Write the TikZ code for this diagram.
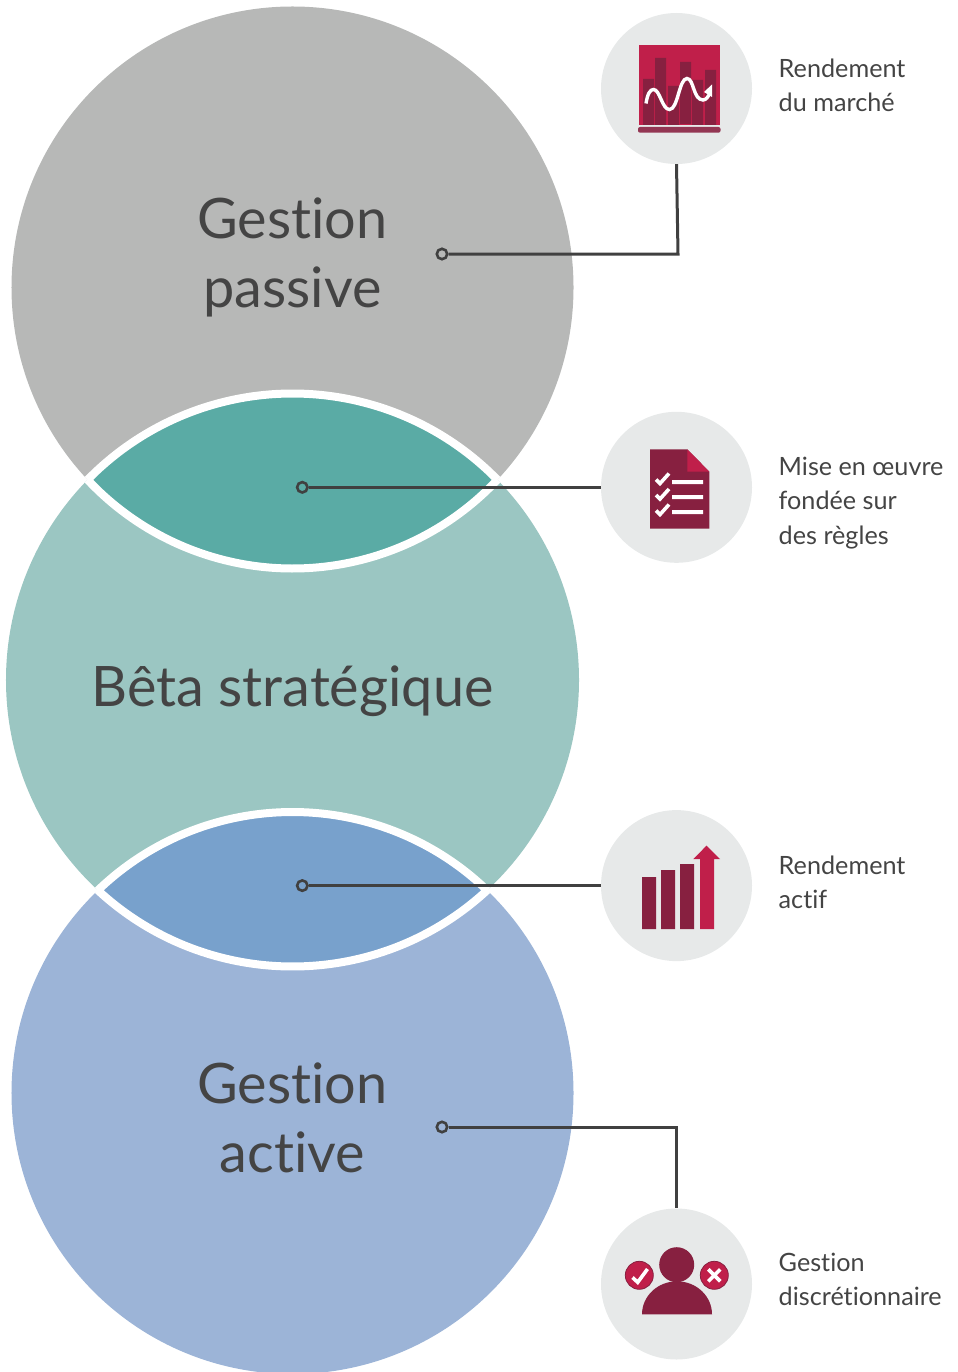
\documentclass[tikz,border=0pt]{standalone}
\usepackage{fontspec}
\setmainfont[Ligatures={NoCommon}]{Lato}
\usetikzlibrary{calc}
\definecolor{cGray}{HTML}{B7B8B7}
\definecolor{cTeal}{HTML}{9BC6C2}
\definecolor{cTealD}{HTML}{5AABA5}
\definecolor{cBlue}{HTML}{9CB4D7}
\definecolor{cBlueD}{HTML}{78A1CC}
\definecolor{cIcon}{HTML}{E7E9E9}
\definecolor{cLine}{HTML}{404040}
\definecolor{cText}{HTML}{444444}
\definecolor{cMaroon}{HTML}{872040}
\definecolor{cCrimson}{HTML}{C01F4A}
\tikzset{
  x=1bp,y=-1bp,
  bigtext/.style={text=cText,font=\fontsize{56}{69.5}\selectfont,align=center,inner sep=0pt},
  smalltext/.style={text=cText,font=\fontsize{25.3}{34.4}\selectfont,align=left,anchor=west,inner sep=0pt},
  iconbg/.style={circle,fill=cIcon,minimum size=151bp,inner sep=0pt},
  dotmark/.style={circle,draw=cLine,line width=2.6bp,minimum size=10.4bp,inner sep=0pt},
  conn/.style={draw=cLine,line width=3bp},
  ringarc/.style={draw=white,line width=8bp},
  whitestroke/.style={draw=white,line width=3.6bp},
}
\begin{document}
\begin{tikzpicture}
\useasboundingbox (0,0) rectangle (957,1372);
\coordinate (cA) at (292.5,287.5);
\coordinate (cB) at (292.5,680);
\coordinate (cC) at (292.5,1093);
\begin{scope}
\clip (0,0) rectangle (957,1372);
\fill[cGray] (cA) circle[radius=281bp];
\fill[cBlue] (cC) circle[radius=281bp];
\fill[cTeal] (cB) circle[radius=286.5bp];
% lenses
\begin{scope}
\clip (cA) circle[radius=281bp];
\fill[cTealD] (cB) circle[radius=286.5bp];
\end{scope}
\begin{scope}
\clip (cC) circle[radius=281bp];
\fill[cBlueD] (cB) circle[radius=286.5bp];
\end{scope}
% white separators
\draw[ringarc] (cA) ++(223.14:281bp) arc[start angle=223.14,end angle=316.86,radius=281bp];
\draw[ringarc] (cB) ++(44.3:286.5bp) arc[start angle=44.3,end angle=135.7,radius=286.5bp];
\draw[ringarc] (cB) ++(-47.1:286.5bp) arc[start angle=-47.1,end angle=-132.9,radius=286.5bp];
\draw[ringarc] (cC) ++(46.1:281bp) arc[start angle=46.1,end angle=133.9,radius=281bp];
\end{scope}

% icon discs
\node[iconbg] (ic1) at (676.5,88.5) {};
\node[iconbg] (ic2) at (676.5,487.3) {};
\node[iconbg] (ic3) at (676.5,885.6) {};
\node[iconbg] (ic4) at (676.5,1284) {};

% dots and connectors
\node[dotmark] (d1) at (442,254) {};
\node[dotmark] (d2) at (302.3,487.3) {};
\node[dotmark] (d3) at (302.3,885.6) {};
\node[dotmark] (d4) at (442,1127) {};
\coordinate (k1) at (678,254);
\draw[conn] (d1) -- (k1) -- (ic1.south);
\draw[conn] (d2) -- (ic2);
\draw[conn] (d3) -- (ic3);
\draw[conn] (d4) -| (ic4);

% big labels
\node[bigtext] (t1) at (292.5,257.5) {Gestion\\passive};
\node[bigtext] (t2) at (292.5,691) {Bêta stratégique};
\node[bigtext] (t3) at (292.5,1117.5) {Gestion\\active};

% small labels
\node[smalltext] (l1) at (778.5,85.5) {Rendement\\du marché};
\node[smalltext] (l2) at (778.5,503) {Mise en œuvre\\fondée sur\\des règles};
\node[smalltext] (l3) at (778.5,882) {Rendement\\actif};
\node[smalltext] (l4) at (778.5,1279.5) {Gestion\\discrétionnaire};

% icon 1
\fill[cCrimson] (639,45) rectangle (720,125);
\fill[cMaroon] (643,79) rectangle (654,125)
  (655,58) rectangle (666,125)
  (668,86) rectangle (679,125)
  (680,62) rectangle (691,124)
  (692,80) rectangle (703,125)
  (705,70) rectangle (716,125);
\fill[cMaroon!90!white,rounded corners=2bp] (638,127) rectangle (720.5,132.7);
\draw[whitestroke,line width=3.4bp] (646,103.5) .. controls (647.5,94) and (650,89.5) .. (653.5,89.5)
  .. controls (660,89.5) and (662,109.5) .. (669.5,109.5)
  .. controls (678,109.5) and (679,78.5) .. (687,78.5)
  .. controls (694,78.5) and (693,100) .. (703,100)
  .. controls (706,100) and (708,97) .. (710,93);
\fill[white] (712,84.5) -- (712,97) -- (704,92) -- cycle;

% icon 2
\fill[cMaroon] (650,449.3) -- (687.3,449.3) -- (709.3,471.7) -- (709.3,528.7) -- (650,528.7) -- cycle;
\fill[cCrimson] (687.3,449.3) -- (709.3,471.7) -- (687.3,471.7) -- cycle;
\fill[white] (672,480) rectangle (703,484) (672,495) rectangle (703,499) (672,510) rectangle (703,514);
\foreach \dy in {0,15.5,31}{
  \draw[whitestroke] (656,479.5+\dy) -- (660,483.5+\dy) -- (669,473.5+\dy);
}

% icon 3
\fill[cMaroon] (642,877) rectangle (656,929) (661,870) rectangle (675,929) (680,864) rectangle (694,929);
\fill[cCrimson] (700,929) -- (700,859) -- (693.3,859) -- (706.5,845.7) -- (720,859) -- (714,859) -- (714,929) -- cycle;

% icon 4
\fill[cMaroon] (676.7,1264.7) circle[radius=17.5bp];
\fill[cMaroon] (642,1314.3) arc[start angle=180,end angle=0,x radius=35bp,y radius=33bp] -- cycle;
\fill[cCrimson,draw=cMaroon,line width=0.8bp] (639.3,1275.3) circle[radius=14bp];
\fill[cCrimson,draw=cMaroon,line width=0.8bp] (714.3,1275.3) circle[radius=14bp];
\draw[whitestroke] (632.5,1277.5) -- (637.7,1282.3) -- (647.5,1269);
\draw[whitestroke] (708.3,1269.3) -- (720.3,1281.3) (720.3,1269.3) -- (708.3,1281.3);
\end{tikzpicture}
\end{document}
